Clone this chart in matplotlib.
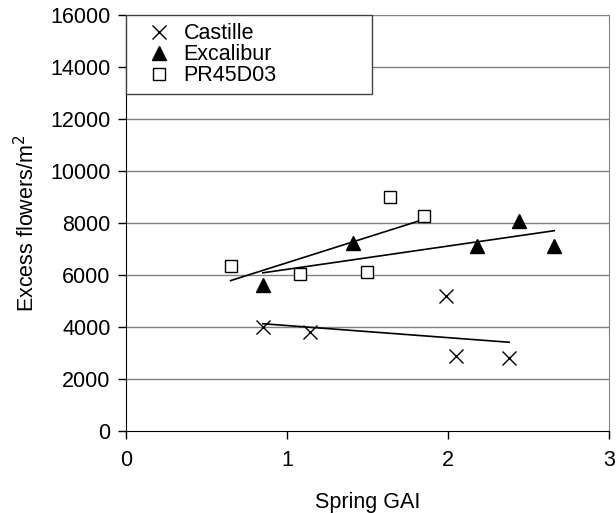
import numpy as np
import matplotlib
matplotlib.use("Agg")
import matplotlib.pyplot as plt

plt.rcParams['font.family'] = ['Liberation Sans', 'DejaVu Sans']

# values
castille_x = [0.85, 1.14, 1.99, 2.05, 2.38]
castille_y = [4000, 3810, 5180, 2870, 2790]
excalibur_x = [0.85, 1.41, 2.18, 2.44, 2.66]
excalibur_y = [5600, 7230, 7100, 8080, 7110]
pr_x = [0.65, 1.08, 1.50, 1.64, 1.85]
pr_y = [6320, 6050, 6090, 8980, 8260]

xticks = [0, 1, 2, 3]
yticks = np.arange(0, 16001, 2000)

fs = 15.5

fig = plt.figure(figsize=(6.16, 5.13), dpi=100)
ax = fig.add_axes([0.2045, 0.1604, 0.7841, 0.8104])

for yv in yticks[1:]:
    ax.axhline(yv, color='#808080', lw=1.0, zorder=0)

ax.plot(castille_x, castille_y, 'x', color='k', ms=9.5, mew=1.0, label='Castille', zorder=3)
ax.plot(excalibur_x, excalibur_y, '^', color='k', ms=9.5, label='Excalibur', zorder=3)
ax.plot(pr_x, pr_y, 's', mfc='white', mec='k', ms=8, mew=1.0, label='PR45D03', zorder=3)

# linear trend lines over each series' range
for xs, ys in [(castille_x, castille_y), (excalibur_x, excalibur_y), (pr_x, pr_y)]:
    p = np.polyfit(xs, ys, 1)
    xx = np.array([min(xs), max(xs)])
    ax.plot(xx, np.polyval(p, xx), color='k', lw=1.2, zorder=2)

ax.set_xlim(0, 3)
ax.set_ylim(0, 16000)
ax.set_xticks(xticks)
ax.set_yticks(yticks)
ax.tick_params(labelsize=fs, length=6, width=1, direction='out', pad=5)
ax.tick_params(axis='x', pad=8)
ax.spines['top'].set_visible(False)
ax.spines['right'].set_color('#808080')
ax.spines['left'].set_color('k')
ax.spines['bottom'].set_color('k')

ax.set_xlabel('Spring GAI', fontsize=fs, labelpad=15)
ax.set_ylabel('Excess flowers/m$^2$', fontsize=fs, labelpad=8)

leg_h = 72 / 416
leg = ax.legend(loc='upper left', bbox_to_anchor=(0, 1 - leg_h, 0.509, leg_h),
                mode='expand', fontsize=fs, frameon=True, fancybox=False,
                borderaxespad=0, labelspacing=0.0, handlelength=2.3,
                handletextpad=0.0, borderpad=0.38)
leg.get_frame().set_edgecolor('#404040')
leg.get_frame().set_linewidth(1.0)
leg.get_frame().set_alpha(1)

fig.savefig('out.png', dpi=100)
